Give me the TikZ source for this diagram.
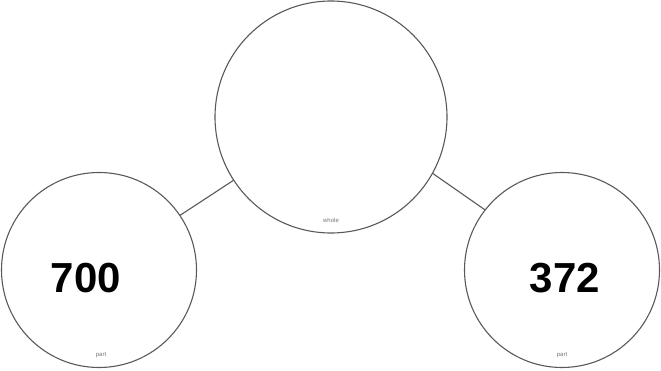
\documentclass[tikz,border=0pt]{standalone}
\usepackage{fontspec}
\setmainfont{Liberation Sans}
\begin{document}
\begin{tikzpicture}[x=1pt,y=-1pt,
  bubble/.style={circle,draw=black!65,line width=1.1pt,inner sep=0pt,outer sep=0pt},
  link/.style={draw=black!65,line width=1.1pt},
  num/.style={inner sep=0pt,font=\fontsize{42}{42}\selectfont\bfseries},
  tag/.style={inner sep=0pt,text=black!55,font=\fontsize{6}{6}\selectfont}]
\useasboundingbox (0,0) rectangle (661,371);
\node[bubble,minimum size=232pt] (T) at (331,117) {};
\node[bubble,minimum size=195pt] (L) at (99,270) {};
\node[bubble,minimum size=195pt] (R) at (562,270) {};
\draw[link] (L.34) -- (T.-147);
\draw[link] (T.-29.6) -- (R.142);
\node[num] (n1) at (86,278) {700};
\node[num] (n2) at (565,278) {372};
\node[tag] (w) at (331,220) {whole};
\node[tag] (p1) at (101,355) {part};
\node[tag] (p2) at (562,355) {part};
\end{tikzpicture}
\end{document}
